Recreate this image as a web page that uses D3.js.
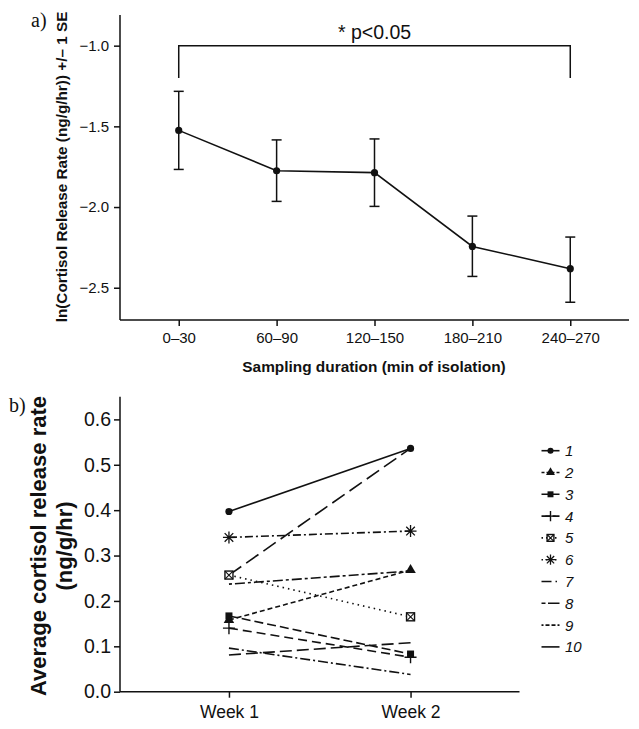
<!DOCTYPE html>
<html><head><meta charset="utf-8">
<script src="https://cdn.jsdelivr.net/npm/d3@7"></script>
<style>
html,body{margin:0;padding:0;background:#fff;}
svg{display:block;}
text{font-family:"Liberation Sans",Arial,Helvetica,sans-serif;fill:#111;}
</style></head>
<body>
<svg id="chart" width="639" height="729"></svg>
<script>
// ---------- Panel a data ----------
const durations = ["0–30","60–90","120–150","180–210","240–270"];
const meanLn   = [-1.525,-1.775,-1.787,-2.244,-2.382];
const upperSE  = [-1.283,-1.584,-1.578,-2.056,-2.186];
const lowerSE  = [-1.767,-1.965,-1.996,-2.430,-2.590];
const yTicksA  = [-1.0,-1.5,-2.0,-2.5];
const sigLabel = "* p<0.05";

// ---------- Panel b data ----------
const weeks = ["Week 1","Week 2"];
const subjects = ["1","2","3","4","5","6","7","8","9","10"];
const week1 = [0.397,0.158,0.167,0.140,0.257,0.340,0.096,0.237,0.081,0.257];
const week2 = [0.536,0.268,0.083,0.076,0.165,0.354,0.038,0.266,0.108,0.536];
const markers = ["circle","triangle","square","plus","boxx","asterisk",null,null,null,null];
const dashes = [null,"5,3","9,4","9,5","1.5,4","8,3,2,3","10,3,2,3","3,3,10,3","12,5","15,6"];
const legendDashes = [null,"3,2","9,2","9,2","1.5,3","1.5,3","10,4,1.5,4","4,2.5,12,3","2,2,4,2,4,2",null];
const yTicksB = [0,0.1,0.2,0.3,0.4,0.5,0.6];

const svg = d3.select("#chart");
const fmtMinus = d => d3.format(".1f")(d).replace("-", "−");

// ================= Panel a =================
const xA = d3.scalePoint().domain(durations).range([120,629]).padding(0.6);
const yA = d3.scaleLinear().domain([-2.7,-0.81]).range([320,15]);

const gA = svg.append("g");
const axA_y = gA.append("g").attr("transform","translate(120,0)")
  .call(d3.axisLeft(yA).tickValues(yTicksA).tickFormat(fmtMinus).tickSize(6).tickSizeOuter(0).tickPadding(5));
const axA_x = gA.append("g").attr("transform","translate(0,320)")
  .call(d3.axisBottom(xA).tickSize(6).tickSizeOuter(0).tickPadding(6));
[axA_y,axA_x].forEach(a=>{
  a.select(".domain").attr("stroke","#111").attr("stroke-width",1.5);
  a.selectAll(".tick line").attr("stroke","#111").attr("stroke-width",1.5);
  a.selectAll("text").attr("font-size",15).attr("fill","#111").style("font-family","Liberation Sans, Arial, sans-serif");
});
axA_y.select(".domain").attr("d","M0,15V320");
axA_x.select(".domain").attr("d","M120,0H629");

// error bars
durations.forEach((d,i)=>{
  const x = xA(d);
  gA.append("line").attr("x1",x).attr("x2",x).attr("y1",yA(upperSE[i])).attr("y2",yA(lowerSE[i]))
    .attr("stroke","#111").attr("stroke-width",1.5);
  [upperSE[i],lowerSE[i]].forEach(v=>{
    gA.append("line").attr("x1",x-5).attr("x2",x+5).attr("y1",yA(v)).attr("y2",yA(v))
      .attr("stroke","#111").attr("stroke-width",1.5);
  });
});
gA.append("path").datum(durations.map((d,i)=>[xA(d),yA(meanLn[i])]))
  .attr("d",d3.line()).attr("fill","none").attr("stroke","#111").attr("stroke-width",1.6);
gA.selectAll("circle.m").data(durations).join("circle")
  .attr("cx",d=>xA(d)).attr("cy",(d,i)=>yA(meanLn[i])).attr("r",3.6).attr("fill","#111");

// significance bracket
const bx0 = xA(durations[0]), bx1 = xA(durations[durations.length-1]);
gA.append("path")
  .attr("d",`M${bx0},${yA(-1.2)}V${yA(-1.0)}H${bx1}V${yA(-1.2)}`)
  .attr("fill","none").attr("stroke","#111").attr("stroke-width",1.5);
gA.append("text").attr("x",(bx0+bx1)/2).attr("y",39).attr("text-anchor","middle")
  .attr("font-size",19.5).text(sigLabel);

// titles
gA.append("text").attr("transform","translate(67,167) rotate(-90)").attr("text-anchor","middle")
  .attr("font-size",15.3).attr("font-weight","bold").text("ln(Cortisol Release Rate (ng/g/hr)) +/– 1 SE");
gA.append("text").attr("x",374).attr("y",372).attr("text-anchor","middle")
  .attr("font-size",15.4).attr("font-weight","bold").text("Sampling duration (min of isolation)");
gA.append("text").attr("x",31).attr("y",27).attr("font-size",20)
  .style("font-family","Liberation Serif, DejaVu Serif, serif").text("a)");

// ================= Panel b =================
const xB = d3.scalePoint().domain(weeks).range([120,519.5]).padding(0.6);
const yB = d3.scaleLinear().domain([0,0.65]).range([691.7,396.7]);

const gB = svg.append("g");
const axB_y = gB.append("g").attr("transform","translate(120,0)")
  .call(d3.axisLeft(yB).tickValues(yTicksB).tickFormat(d3.format(".1f")).tickSize(6).tickSizeOuter(0).tickPadding(3));
const axB_x = gB.append("g").attr("transform","translate(0,691.7)")
  .call(d3.axisBottom(xB).tickSize(6).tickSizeOuter(0).tickPadding(8));
[axB_y,axB_x].forEach(a=>{
  a.select(".domain").attr("stroke","#111").attr("stroke-width",1.5);
  a.selectAll(".tick line").attr("stroke","#111").attr("stroke-width",1.5);
  a.selectAll("text").attr("fill","#111").style("font-family","Liberation Sans, Arial, sans-serif");
});
axB_y.selectAll("text").attr("font-size",19.5);
axB_x.selectAll("text").attr("font-size",17.5);
axB_y.select(".domain").attr("d","M0,396.7V691.7");
axB_x.select(".domain").attr("d","M120,0H519.5");

function drawMarker(g, type, x, y, s){
  s = s || 1;
  const c = "#111";
  if(type==="circle") g.append("circle").attr("cx",x).attr("cy",y).attr("r",3.6*s).attr("fill",c);
  else if(type==="triangle") g.append("path").attr("transform",`translate(${x},${y})`)
    .attr("d",d3.symbol(d3.symbolTriangle,48*s*s)()).attr("fill",c);
  else if(type==="square") g.append("rect").attr("x",x-3.5*s).attr("y",y-3.5*s).attr("width",7*s).attr("height",7*s).attr("fill",c);
  else if(type==="plus") g.append("path").attr("d",`M${x-6*s},${y}H${x+6*s}M${x},${y-6*s}V${y+6*s}`).attr("stroke",c).attr("stroke-width",1.4);
  else if(type==="boxx"){
    const h = 4*s;
    g.append("rect").attr("x",x-h).attr("y",y-h).attr("width",2*h).attr("height",2*h).attr("fill","#fff").attr("stroke",c).attr("stroke-width",1.4);
    g.append("path").attr("d",`M${x-h},${y-h}L${x+h},${y+h}M${x+h},${y-h}L${x-h},${y+h}`).attr("stroke",c).attr("stroke-width",1.1);
  }
  else if(type==="asterisk") g.append("path").attr("transform",`translate(${x},${y}) scale(${s})`)
    .attr("d","M-6,0H6M0,-6V6M-4.3,-4.3L4.3,4.3M-4.3,4.3L4.3,-4.3").attr("stroke",c).attr("stroke-width",1.3/s);
}

const lineG = gB.append("g");
subjects.forEach((s,i)=>{
  lineG.append("path").datum([[xB(weeks[0]),yB(week1[i])],[xB(weeks[1]),yB(week2[i])]])
    .attr("d",d3.line()).attr("fill","none").attr("stroke","#111").attr("stroke-width",1.6)
    .attr("stroke-dasharray",dashes[i]);
});
subjects.forEach((s,i)=>{
  if(markers[i]){
    drawMarker(gB, markers[i], xB(weeks[0]), yB(week1[i]));
    drawMarker(gB, markers[i], xB(weeks[1]), yB(week2[i]));
  }
});

// legend
const leg = gB.append("g");
subjects.forEach((s,i)=>{
  const y = 450.7 + i*21.8;
  leg.append("line").attr("x1",541.5).attr("x2",559.5).attr("y1",y).attr("y2",y)
    .attr("stroke","#111").attr("stroke-width",1.6).attr("stroke-dasharray",legendDashes[i]);
  if(markers[i]) drawMarker(leg, markers[i], 550.5, y, 0.85);
  leg.append("text").attr("x",565).attr("y",y).attr("dy","0.36em").attr("font-size",15)
    .attr("font-style","italic").text(s);
});

// titles
gB.append("text").attr("transform","translate(46,546) rotate(-90)").attr("text-anchor","middle")
  .attr("font-size",22).attr("font-weight","bold").text("Average cortisol release rate");
gB.append("text").attr("transform","translate(72,546) rotate(-90)").attr("text-anchor","middle")
  .attr("font-size",22).attr("font-weight","bold").text("(ng/g/hr)");
gB.append("text").attr("x",9).attr("y",412).attr("font-size",20)
  .style("font-family","Liberation Serif, DejaVu Serif, serif").text("b)");
</script>
</body></html>
